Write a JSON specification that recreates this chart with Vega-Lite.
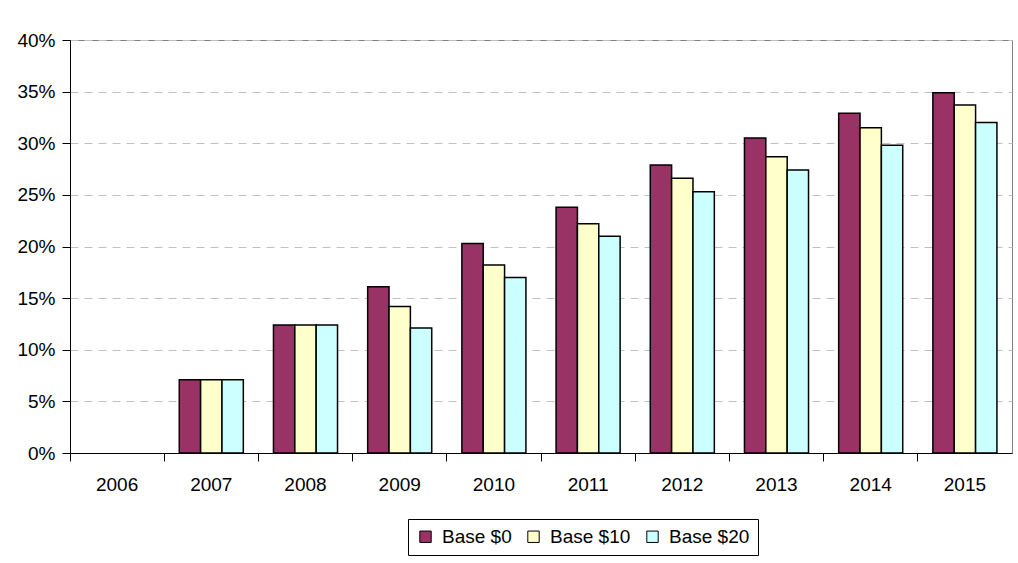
{
  "$schema": "https://vega.github.io/schema/vega-lite/v6.json",
  "width": 942,
  "height": 413,
  "autosize": {"type": "none"},
  "padding": {"left": 70, "top": 40, "right": 6, "bottom": 110},
  "background": "white",
  "config": {
    "view": {"stroke": "#808080", "strokeWidth": 1},
    "font": "Liberation Sans"
  },
  "data": {
    "values": [
      {"year": "2007", "series": "Base $0", "value": 0.071},
      {"year": "2007", "series": "Base $10", "value": 0.071},
      {"year": "2007", "series": "Base $20", "value": 0.071},
      {"year": "2008", "series": "Base $0", "value": 0.124},
      {"year": "2008", "series": "Base $10", "value": 0.124},
      {"year": "2008", "series": "Base $20", "value": 0.124},
      {"year": "2009", "series": "Base $0", "value": 0.161},
      {"year": "2009", "series": "Base $10", "value": 0.142},
      {"year": "2009", "series": "Base $20", "value": 0.121},
      {"year": "2010", "series": "Base $0", "value": 0.203},
      {"year": "2010", "series": "Base $10", "value": 0.182},
      {"year": "2010", "series": "Base $20", "value": 0.17},
      {"year": "2011", "series": "Base $0", "value": 0.238},
      {"year": "2011", "series": "Base $10", "value": 0.222},
      {"year": "2011", "series": "Base $20", "value": 0.21},
      {"year": "2012", "series": "Base $0", "value": 0.279},
      {"year": "2012", "series": "Base $10", "value": 0.266},
      {"year": "2012", "series": "Base $20", "value": 0.253},
      {"year": "2013", "series": "Base $0", "value": 0.305},
      {"year": "2013", "series": "Base $10", "value": 0.287},
      {"year": "2013", "series": "Base $20", "value": 0.274},
      {"year": "2014", "series": "Base $0", "value": 0.329},
      {"year": "2014", "series": "Base $10", "value": 0.315},
      {"year": "2014", "series": "Base $20", "value": 0.298},
      {"year": "2015", "series": "Base $0", "value": 0.349},
      {"year": "2015", "series": "Base $10", "value": 0.337},
      {"year": "2015", "series": "Base $20", "value": 0.32}
    ]
  },
  "layer": [
    {
      "mark": {"type": "bar", "stroke": "black", "strokeWidth": 1.5},
      "encoding": {
        "x": {
          "field": "year",
          "type": "nominal",
          "scale": {
            "domain": ["2006", "2007", "2008", "2009", "2010", "2011", "2012", "2013", "2014", "2015"],
            "paddingInner": 0.32,
            "paddingOuter": 0.16
          },
          "axis": {
            "title": null,
            "orient": "bottom",
            "labelAngle": 0,
            "labelFontSize": 19,
            "labelColor": "black",
            "ticks": false,
            "labelPadding": 22,
            "domainColor": "black",
            "domainWidth": 1,
            "grid": false
          }
        },
        "xOffset": {"field": "series", "type": "nominal", "scale": {"paddingInner": 0, "paddingOuter": 0}},
        "y": {
          "field": "value",
          "type": "quantitative",
          "scale": {"domain": [0, 0.4], "nice": false},
          "axis": {
            "title": null,
            "format": ".0%",
            "values": [0, 0.05, 0.1, 0.15, 0.2, 0.25, 0.3, 0.35, 0.4],
            "labelFontSize": 19,
            "labelColor": "black",
            "tickSize": 8,
            "tickColor": "black",
            "labelPadding": 7,
            "domainColor": "black",
            "grid": true,
            "gridColor": "#c0c0c0",
            "gridDash": [8, 6],
            "gridWidth": 1
          }
        },
        "fill": {
          "field": "series",
          "type": "nominal",
          "scale": {
            "domain": ["Base $0", "Base $10", "Base $20"],
            "range": ["#993366", "#FFFFCC", "#CCFFFF"]
          },
          "legend": {
            "title": null,
            "orient": "none",
            "legendX": 338,
            "legendY": 479,
            "direction": "horizontal",
            "symbolType": "square",
            "symbolSize": 130,
            "symbolStrokeColor": "black",
            "symbolStrokeWidth": 1,
            "labelFontSize": 19,
            "labelColor": "black",
            "labelOffset": 7,
            "columnPadding": 12,
            "strokeColor": "black",
            "padding": 8,
            "fillColor": "white"
          }
        }
      }
    },
    {
      "mark": {"type": "bar", "opacity": 0},
      "encoding": {
        "x": {
          "field": "year",
          "type": "nominal",
          "axis": {
            "title": null,
            "orient": "bottom",
            "labels": false,
            "ticks": true,
            "tickSize": 8,
            "tickColor": "black",
            "bandPosition": -0.235,
            "domain": false,
            "grid": false
          }
        },
        "y": {"field": "value", "type": "quantitative"}
      }
    }
  ],
  "resolve": {"axis": {"x": "independent"}}
}
